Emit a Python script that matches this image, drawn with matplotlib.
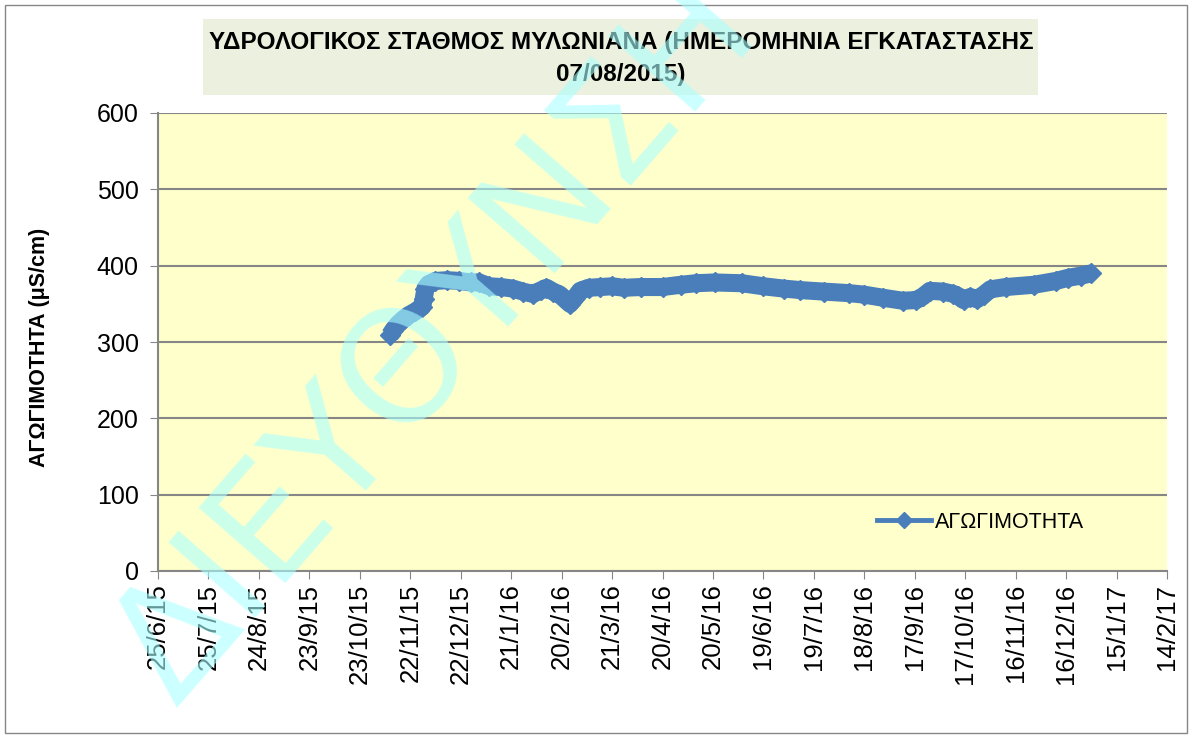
import matplotlib.pyplot as plt
import matplotlib.dates as mdates
import matplotlib.patches as patches
from matplotlib.lines import Line2D
import numpy as np
import pandas as pd

plt.rcParams['font.family'] = ['Liberation Sans', 'DejaVu Sans']

# Δεδομένα αγωγιμότητας (τιμές εκτιμημένες από το γράφημα)
dates = pd.to_datetime([
    '2015-11-10', '2015-11-12', '2015-11-15', '2015-11-18', '2015-11-21',
    '2015-11-25', '2015-11-29', '2015-11-30', '2015-12-01', '2015-12-03',
    '2015-12-07', '2015-12-14', '2015-12-21', '2015-12-28', '2016-01-02',
    '2016-01-08', '2016-01-15', '2016-01-22', '2016-01-28', '2016-02-03',
    '2016-02-08', '2016-02-11', '2016-02-15', '2016-02-19', '2016-02-22',
    '2016-02-25', '2016-02-28', '2016-03-02', '2016-03-07', '2016-03-14',
    '2016-03-21', '2016-03-28', '2016-04-07', '2016-04-20', '2016-05-01',
    '2016-05-10', '2016-05-21', '2016-06-06', '2016-06-19', '2016-07-01',
    '2016-07-11', '2016-07-25', '2016-08-09', '2016-08-18', '2016-08-29',
    '2016-09-10', '2016-09-18', '2016-09-22', '2016-09-26', '2016-10-04',
    '2016-10-10', '2016-10-13', '2016-10-16', '2016-10-20', '2016-10-24',
    '2016-10-28', '2016-11-01', '2016-11-10', '2016-11-27', '2016-12-10',
    '2016-12-17', '2016-12-25', '2016-12-31',
])
conductivity = [
    309, 316, 324, 330, 335,
    340, 346, 356, 370, 376,
    380, 381, 380, 378, 378,
    373, 372, 370, 366, 363,
    368, 371, 366, 362, 356,
    350, 358, 367, 371, 372,
    373, 371, 372, 372, 375,
    377, 378, 377, 373, 370,
    368, 366, 364, 362, 358,
    354, 355, 360, 367, 366,
    363, 360, 355, 359, 356,
    362, 369, 372, 375, 380,
    384, 387, 390,
]

title = 'ΥΔΡΟΛΟΓΙΚΟΣ ΣΤΑΘΜΟΣ ΜΥΛΩΝΙΑΝΑ (ΗΜΕΡΟΜΗΝΙΑ ΕΓΚΑΤΑΣΤΑΣΗΣ\n07/08/2015)'
ylabel = 'ΑΓΩΓΙΜΟΤΗΤΑ (μS/cm)'
series_name = 'ΑΓΩΓΙΜΟΤΗΤΑ'
watermark = 'ΔΙΕΥΘΥΝΣΗ'

line_color = '#4A7EBB'
grid_color = '#868686'

fig = plt.figure(figsize=(11.92, 7.38), dpi=100)
ax = fig.add_axes([158/1192, 1 - 571/738, (1167-158)/1192, (571-113)/738])
ax.set_facecolor('#FFFFCC')

# Σειρά δεδομένων
ax.plot(dates, conductivity, color=line_color, lw=13, marker='D',
        markersize=10, solid_joinstyle='round', solid_capstyle='butt', zorder=3)

# Άξονες
ax.set_ylim(0, 600)
ax.set_yticks(np.arange(0, 601, 100))
xticks = pd.date_range('2015-06-25', periods=21, freq='30D')
ax.set_xlim(xticks[0], xticks[-1])
ax.set_xticks(xticks)
ax.xaxis.set_major_formatter(
    plt.FuncFormatter(lambda v, p: (lambda d: f'{d.day}/{d.month}/{d:%y}')(mdates.num2date(v))))
ax.tick_params(axis='x', rotation=90, labelsize=18.5, length=6, color=grid_color, pad=3)
ax.tick_params(axis='y', labelsize=18, length=6, color=grid_color, pad=8)
ax.grid(axis='y', color=grid_color, lw=1.5)
ax.set_axisbelow(True)
for s in ['top', 'right']:
    ax.spines[s].set_visible(False)
for s in ['left', 'bottom']:
    ax.spines[s].set_color(grid_color)
    ax.spines[s].set_linewidth(1.5)

# Υπόμνημα
handle = Line2D([], [], color=line_color, lw=3.5, marker='D', markersize=8)
ax.legend([handle], [series_name], loc='center left', frameon=False,
          bbox_to_anchor=(877/1192, 1 - 522/738), bbox_transform=fig.transFigure,
          borderpad=0, borderaxespad=0, handlelength=2.5, handletextpad=0.2,
          fontsize=15.5)

# Τίτλος με πλαίσιο
fig.patches.append(patches.Rectangle((203/1192, 1 - 95/738), 835/1192, 76/738,
                                     transform=fig.transFigure, facecolor='#EBF1DE',
                                     edgecolor='none', zorder=0))
fig.text(621/1192, 1 - 59/738, title, ha='center', va='center', fontsize=17.5,
         fontweight='bold', linespacing=1.5)
fig.text(40/1192, 1 - 347/738, ylabel, rotation=90, ha='center', va='center',
         fontsize=15.5, fontweight='bold')

# Περίγραμμα γραφήματος
fig.patches.append(patches.Rectangle((5/1192, 5/738), 1182/1192, 728/738,
                                     transform=fig.transFigure, fill=False,
                                     edgecolor=grid_color, lw=1))

# Υδατογράφημα
fig.text(470/1192, 1 - 370/738, watermark, rotation=49, rotation_mode='anchor',
         ha='center', va='baseline', fontsize=112, family='DejaVu Sans',
         color=(170/255, 1, 1), alpha=0.6, zorder=10)

fig.savefig('out.png', dpi=100)
